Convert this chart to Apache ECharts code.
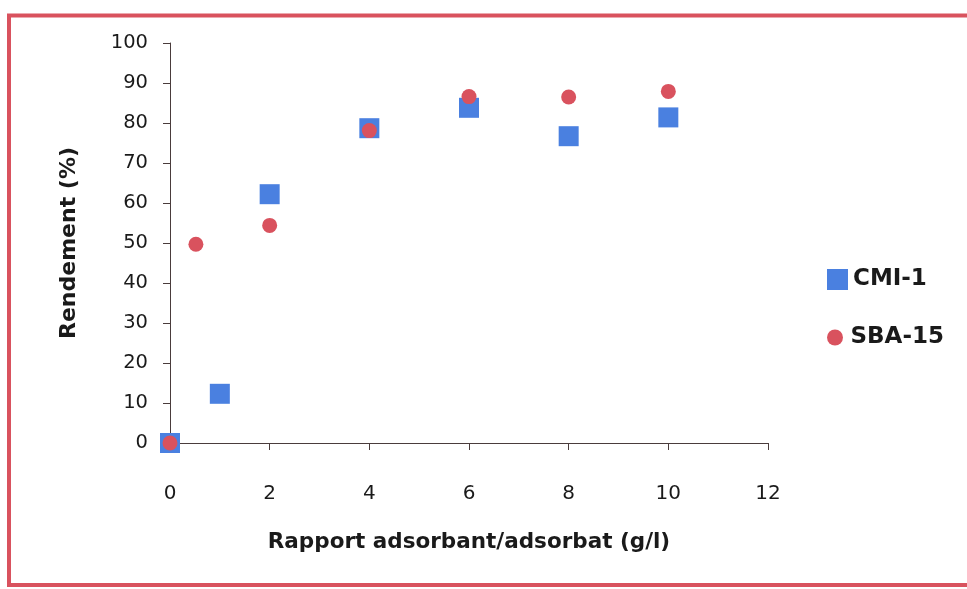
<!DOCTYPE html>
<html>
<head>
<meta charset="utf-8">
<script src="https://cdn.jsdelivr.net/npm/echarts@6/dist/echarts.min.js"></script>
<style>
  html, body { margin: 0; padding: 0; background: #fff; }
  #chart { width: 967px; height: 589px; }
</style>
</head>
<body>
<div id="chart"></div>
<script>
// Yield versus adsorbent/adsorbate ratio for two materials
const seriesNames = ['CMI-1', 'SBA-15'];
const cmiX = [0, 1, 2, 4, 6, 8, 10];
const cmiY = [0, 12.3, 62.2, 78.7, 83.8, 76.7, 81.4];
const sbaX = [0, 0.52, 2, 4, 6, 8, 10];
const sbaY = [0, 49.7, 54.4, 78.1, 86.6, 86.5, 87.9];
const xTicks = [0, 2, 4, 6, 8, 10, 12];
const yTicks = [0, 10, 20, 30, 40, 50, 60, 70, 80, 90, 100];

const pairs = (xs, ys) => xs.map((x, i) => [x, ys[i]]);

const FONT = '"DejaVu Sans", "Open Sans", sans-serif';
const axisColor = '#4a3c3c';
const textColor = '#1a1a1a';
const blue = '#4a80e0';
const red = '#d9525e';

const legendText = { fontFamily: FONT, fontWeight: 'bold', fontSize: 23, color: textColor };

const chart = echarts.init(document.getElementById('chart'), null, { renderer: 'canvas' });
chart.setOption({
  backgroundColor: '#ffffff',
  animation: false,
  graphic: [{
    type: 'rect',
    shape: { x: 9, y: 15.5, width: 980, height: 569.5 },
    style: { fill: 'none', stroke: '#d9525e', lineWidth: 4 },
    silent: true
  }],
  grid: { left: 170, right: 199, top: 43, bottom: 146 },
  xAxis: {
    type: 'value',
    min: xTicks[0], max: xTicks[xTicks.length - 1], interval: 2,
    name: 'Rapport adsorbant/adsorbat (g/l)',
    nameLocation: 'middle', nameGap: 88,
    nameTextStyle: { fontFamily: FONT, fontWeight: 'bold', fontSize: 21.5, color: textColor },
    axisLine: { lineStyle: { color: axisColor, width: 1 } },
    axisTick: { show: true, inside: false, length: 7, lineStyle: { color: axisColor } },
    axisLabel: { margin: 41, fontFamily: FONT, fontSize: 20, color: textColor },
    splitLine: { show: false }
  },
  yAxis: {
    type: 'value',
    min: yTicks[0], max: yTicks[yTicks.length - 1], interval: 10,
    name: 'Rendement (%)',
    nameLocation: 'middle', nameGap: 90,
    nameTextStyle: { fontFamily: FONT, fontWeight: 'bold', fontSize: 22, color: textColor },
    axisLine: { show: true, lineStyle: { color: axisColor, width: 1 } },
    axisTick: { show: true, inside: false, length: 7, lineStyle: { color: axisColor } },
    axisLabel: { margin: 22, fontFamily: FONT, fontSize: 19.5, color: textColor },
    splitLine: { show: false }
  },
  legend: [
    {
      left: 827, top: 268, padding: 0,
      itemWidth: 21, itemHeight: 21,
      textStyle: legendText,
      data: [{ name: seriesNames[0], icon: 'rect' }]
    },
    {
      left: 827, top: 326, padding: 0,
      itemWidth: 21, itemHeight: 16,
      textStyle: legendText,
      data: [{ name: seriesNames[1], icon: 'circle' }]
    }
  ],
  series: [
    {
      name: seriesNames[0], type: 'scatter', symbol: 'rect', symbolSize: 20,
      itemStyle: { color: blue, opacity: 1 },
      data: pairs(cmiX, cmiY), z: 2
    },
    {
      name: seriesNames[1], type: 'scatter', symbol: 'circle', symbolSize: 15,
      itemStyle: { color: red, opacity: 1 },
      data: pairs(sbaX, sbaY), z: 3
    }
  ]
});
</script>
</body>
</html>
